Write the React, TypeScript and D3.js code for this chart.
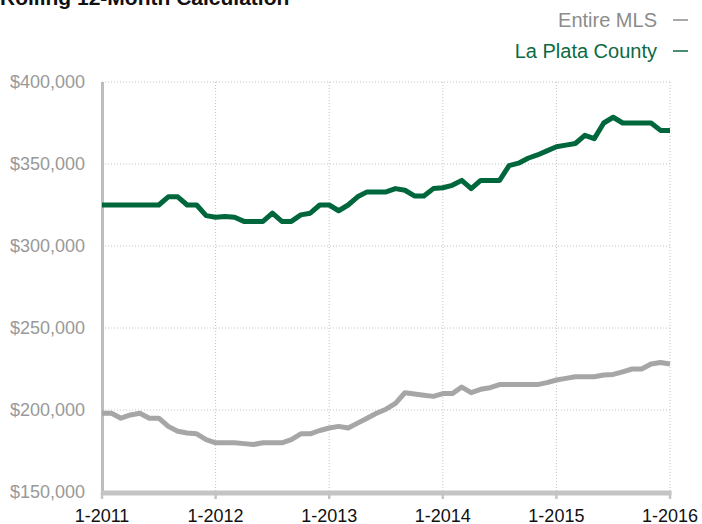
import { useRef, useEffect } from 'react';
import * as d3 from 'd3';

// monthly points, Jan 2011 .. Jan 2016
const START_YEAR = 2011;
const YEAR_TICKS = [2011, 2012, 2013, 2014, 2015, 2016];
const Y_TICKS = [150000, 200000, 250000, 300000, 350000, 400000];

const laPlata = [
  325000, 325000, 325000, 325000, 325000, 325000, 325000, 330000, 330000, 325000,
  325000, 318500, 317500, 318000, 317500, 315000, 315000, 315000, 320000, 315000,
  315000, 319000, 320000, 325000, 325000, 321500, 325000, 330000, 333000, 333000,
  333000, 335000, 334000, 330500, 330500, 335000, 335500, 337000, 340000, 335000,
  340000, 340000, 340000, 349000, 350500, 353500, 355500, 358000, 360500, 361500,
  362500, 367500, 365500, 375000, 378500, 375000, 375000, 375000, 375000, 370500,
  370500,
];

const entireMls = [
  198000, 198000, 195000, 197000, 198000, 195000, 195000, 190000, 187000, 186000,
  185500, 182000, 180000, 180000, 180000, 179500, 179000, 180000, 180000, 180000,
  182000, 185500, 185500, 187500, 189000, 190000, 189000, 192000, 195000, 198000,
  200500, 204000, 210500, 209800, 209000, 208300, 210000, 210000, 214000, 210600,
  212600, 213600, 215500, 215500, 215500, 215500, 215500, 216700, 218300, 219300,
  220300, 220300, 220300, 221300, 221700, 223300, 225000, 225000, 228000, 229000,
  228000,
];

const SERIES = [
  { name: 'Entire MLS', values: entireMls, color: '#a6a6a6', label: '#8c8c8c' },
  { name: 'La Plata County', values: laPlata, color: '#00663c', label: '#0b6a43' },
];

const FONT = '"Liberation Sans", Arial, Helvetica, sans-serif';

function LineChart() {
  const svgRef = useRef<SVGSVGElement>(null);

  useEffect(() => {
    if (!svgRef.current) return;
    const svg = d3.select(svgRef.current);
    svg.selectAll('*').remove();

    const width = 702;
    const height = 524;
    const margin = { top: 82, right: 32, bottom: 32, left: 102 };
    const innerWidth = width - margin.left - margin.right;
    const innerHeight = height - margin.top - margin.bottom;

    svg.attr('width', width).attr('height', height);

    // title, mostly clipped by the top edge like the source
    svg.append('text')
      .attr('x', 0)
      .attr('y', 5)
      .attr('font-family', FONT)
      .attr('font-size', '21px')
      .attr('font-weight', 'bold')
      .attr('fill', '#111')
      .text('Rolling 12-Month Calculation');

    // legend (right aligned)
    SERIES.forEach((s, i) => {
      const y = 26.5 + i * 31;
      svg.append('text')
        .attr('x', 657)
        .attr('y', y)
        .attr('text-anchor', 'end')
        .attr('font-family', FONT)
        .attr('font-size', '20px')
        .attr('fill', s.label)
        .text(s.name);
      svg.append('line')
        .attr('x1', 673)
        .attr('x2', 688)
        .attr('y1', y - 6.5)
        .attr('y2', y - 6.5)
        .attr('stroke', s.label)
        .attr('stroke-width', 1.5);
    });

    const g = svg.append('g').attr('transform', `translate(${margin.left},${margin.top})`);

    const xScale = d3.scaleLinear().domain([0, 60]).range([0, innerWidth]);
    const yScale = d3.scaleLinear().domain([150000, 400000]).range([innerHeight, 0]);

    // horizontal grid
    g.selectAll('.hgrid')
      .data(Y_TICKS.filter((v) => v > 150000))
      .enter()
      .append('line')
      .attr('x1', 0)
      .attr('x2', innerWidth)
      .attr('y1', (d) => yScale(d))
      .attr('y2', (d) => yScale(d))
      .attr('stroke', '#c4c4c4')
      .attr('stroke-width', 1)
      .attr('stroke-dasharray', '1,2');

    // vertical grid
    g.selectAll('.vgrid')
      .data(YEAR_TICKS.slice(1))
      .enter()
      .append('line')
      .attr('x1', (d) => xScale((d - START_YEAR) * 12))
      .attr('x2', (d) => xScale((d - START_YEAR) * 12))
      .attr('y1', 0)
      .attr('y2', innerHeight)
      .attr('stroke', '#c4c4c4')
      .attr('stroke-width', 1)
      .attr('stroke-dasharray', '1,2');

    // y axis labels
    g.selectAll('.ylab')
      .data(Y_TICKS)
      .enter()
      .append('text')
      .attr('x', -17)
      .attr('y', (d) => yScale(d) + 5.5)
      .attr('text-anchor', 'end')
      .attr('font-family', FONT)
      .attr('font-size', '18px')
      .attr('fill', '#999')
      .text((d) => d3.format('$,')(d));

    // left axis line
    g.append('line')
      .attr('x1', 0.5)
      .attr('x2', 0.5)
      .attr('y1', 0)
      .attr('y2', innerHeight)
      .attr('stroke', '#bdbdbd')
      .attr('stroke-width', 3);

    // bottom axis
    g.append('line')
      .attr('x1', -1)
      .attr('x2', innerWidth + 1.5)
      .attr('y1', innerHeight + 1)
      .attr('y2', innerHeight + 1)
      .attr('stroke', '#c4c4c4')
      .attr('stroke-width', 5);

    YEAR_TICKS.forEach((yr) => {
      const x = xScale((yr - START_YEAR) * 12);
      g.append('line')
        .attr('x1', x)
        .attr('x2', x)
        .attr('y1', innerHeight)
        .attr('y2', innerHeight + 7)
        .attr('stroke', '#c4c4c4')
        .attr('stroke-width', 2.5);
      g.append('text')
        .attr('x', x)
        .attr('y', innerHeight + 29.5)
        .attr('text-anchor', 'middle')
        .attr('font-family', FONT)
        .attr('font-size', '18px')
        .attr('fill', '#111')
        .text(`1-${yr}`);
    });

    const line = d3
      .line<number>()
      .x((_, i) => xScale(i))
      .y((d) => yScale(d))
      .curve(d3.curveLinear);

    SERIES.forEach((s) => {
      g.append('path')
        .datum(s.values)
        .attr('d', line)
        .attr('fill', 'none')
        .attr('stroke', s.color)
        .attr('stroke-width', 5)
        .attr('stroke-linejoin', 'round');
    });
  }, []);

  return <svg ref={svgRef} style={{ position: 'fixed', left: 0, top: 0, background: '#fff' }} />;
}

export default function App() {
  return <LineChart />;
}
